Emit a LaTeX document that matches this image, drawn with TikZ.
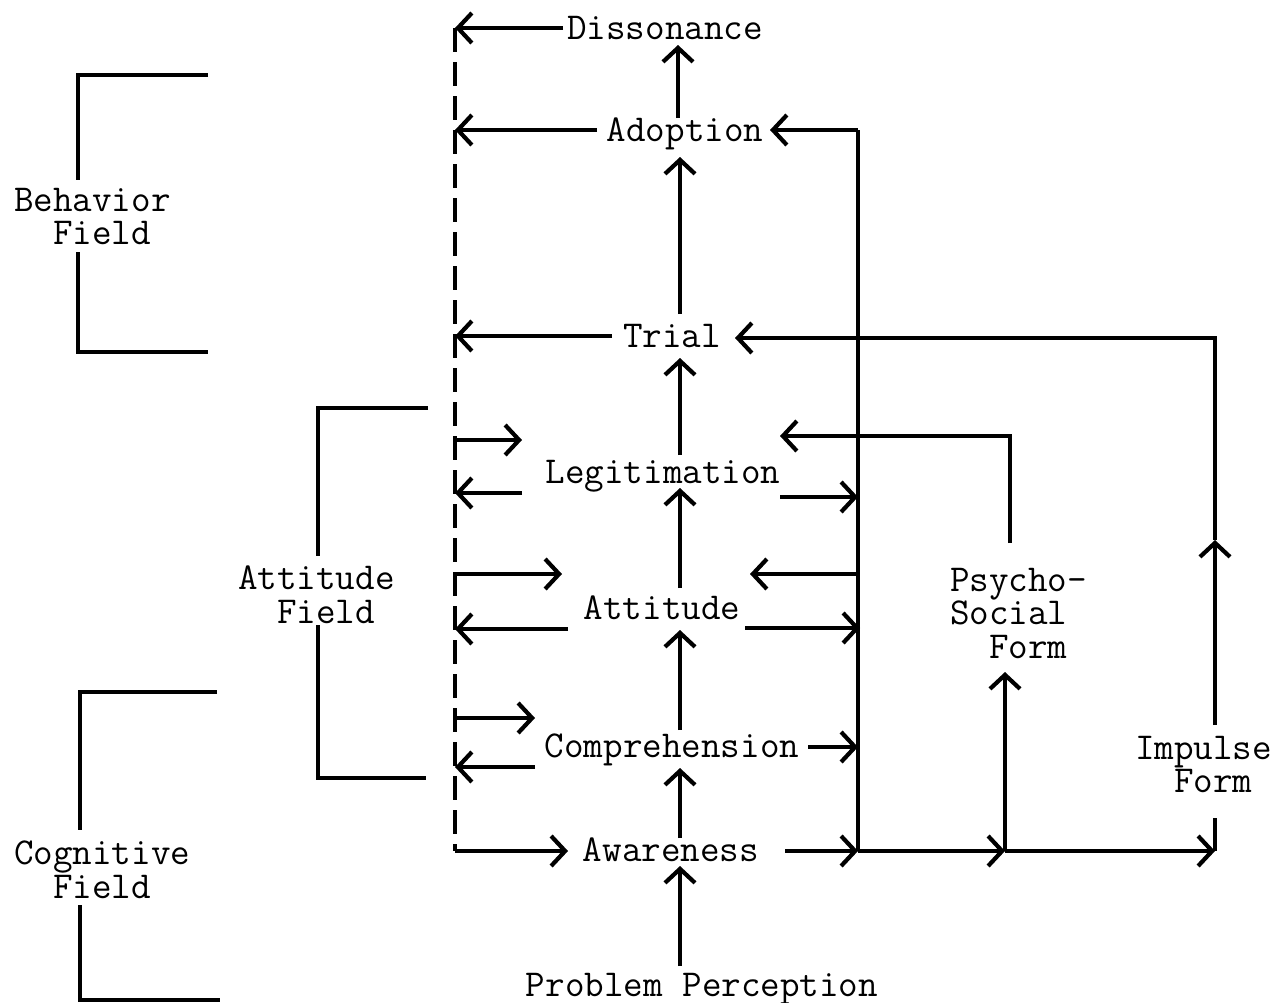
\documentclass[tikz,border=0pt]{standalone}
\usepackage{fontspec}
\usetikzlibrary{arrows.meta}
\begin{document}
\begin{tikzpicture}[x=1pt,y=-1pt,line width=4.2pt,
  arr/.style={-{Straight Barb[length=14pt,width=30pt]}},
  lbl/.style={inner sep=0pt,anchor=base,font=\ttfamily\fontsize{38}{40}\selectfont},
  blk/.style={inner sep=0pt,anchor=north west,align=left,font=\ttfamily\fontsize{38}{33.5}\selectfont},
  dsh/.style={dash pattern=on 24pt off 10pt,line width=3.6pt}]
\useasboundingbox (0,0) rectangle (1275,1002);
% main stage labels
\node[lbl] (dis) at (665,39) {Dissonance};
\node[lbl] (ado) at (685,141) {Adoption};
\node[lbl] (tri) at (672,347) {Trial};
\node[lbl] (leg) at (663,483) {Legitimation};
\node[lbl] (att) at (662,619) {Attitude};
\node[lbl] (com) at (672,757) {Comprehension};
\node[lbl] (awa) at (671,861) {Awareness};
\node[lbl] (pp) at (702,996) {Problem Perception};
% right labels
\node[blk] (psy) at (948,566) {Psycho-\\Social\\\phantom{So}Form};
\node[blk] (imp) at (1133,734) {Impulse\\\phantom{Im}Form};
% field labels
\node[blk] (bf) at (12,186) {Behavior\\\phantom{Be}Field};
\node[blk] (af) at (236,564) {Attitude\\\phantom{At}Field};
\node[blk] (cf) at (12,839) {Cognitive\\\phantom{Co}Field};
% brackets
\draw (208,75) -- (78,75) -- (78,180);
\draw (78,252) -- (78,352) -- (208,352);
\draw (428,408) -- (318,408) -- (318,556);
\draw (318,625) -- (318,778) -- (426,778);
\draw (217,692) -- (80,692) -- (80,830);
\draw (80,905) -- (80,1000) -- (220,1000);
% dashed feedback line
\coordinate (dtop) at (455,28);
\coordinate (dbot) at (455,851);
\draw[dsh] (dtop) -- (dbot);
% vertical chain
\coordinate (ppT) at (680,966); \coordinate (awB) at (680,866);
\coordinate (awT) at (680,838); \coordinate (coB) at (680,768);
\coordinate (coT) at (680,730); \coordinate (atB) at (680,630);
\coordinate (atT) at (680,588); \coordinate (leB) at (680,488);
\coordinate (leT) at (680,455); \coordinate (trB) at (680,358);
\coordinate (trT) at (680,314); \coordinate (adB) at (680,157);
\coordinate (adT) at (678,118); \coordinate (diB) at (678,45);
\draw[arr] (ppT) -- (awB);
\draw[arr] (awT) -- (coB);
\draw[arr] (coT) -- (atB);
\draw[arr] (atT) -- (leB);
\draw[arr] (leT) -- (trB);
\draw[arr] (trT) -- (adB);
\draw[arr] (adT) -- (diB);
% left arrows to dashed line
\coordinate (diL) at (563,28);  \coordinate (diD) at (455,28);
\coordinate (adL) at (597,130); \coordinate (adD) at (455,130);
\coordinate (trL) at (612,336); \coordinate (trD) at (455,336);
\coordinate (leL) at (522,493); \coordinate (leD) at (455,493);
\coordinate (atL) at (568,629); \coordinate (atD) at (455,629);
\coordinate (coL) at (535,767); \coordinate (coD) at (455,767);
\draw[arr] (diL) -- (diD);
\draw[arr] (adL) -- (adD);
\draw[arr] (trL) -- (trD);
\draw[arr] (leL) -- (leD);
\draw[arr] (atL) -- (atD);
\draw[arr] (coL) -- (coD);
% arrows from dashed line
\coordinate (d1) at (455,440); \coordinate (e1) at (522,440);
\coordinate (d2) at (455,574); \coordinate (e2) at (562,574);
\coordinate (d3) at (455,718); \coordinate (e3) at (535,718);
\coordinate (e4) at (568,851);
\draw[arr] (d1) -- (e1);
\draw[arr] (d2) -- (e2);
\draw[arr] (d3) -- (e3);
\draw[arr] (dbot) -- (e4);
% right trunk
\coordinate (rT) at (858,130); \coordinate (rB) at (858,851);
\coordinate (adR) at (770,130);
\draw (rB) -- (rT);
\draw[arr] (rT) -- (adR);
\coordinate (leR) at (780,497); \coordinate (leX) at (858,497);
\coordinate (atR) at (745,628); \coordinate (atX) at (860,628);
\coordinate (coR) at (808,747); \coordinate (coX) at (858,747);
\coordinate (awR) at (785,851);
\coordinate (r2) at (858,574); \coordinate (at2) at (750,574);
\draw[arr] (leR) -- (leX);
\draw[arr] (atR) -- (atX);
\draw[arr] (coR) -- (coX);
\draw[arr] (r2) -- (at2);
\draw[arr] (awR) -- (rB);
% psycho-social branch
\coordinate (psB) at (1005,851);
\coordinate (psU) at (1005,672);
\coordinate (psT) at (1010,543);
\coordinate (psC) at (1010,436);
\coordinate (leT2) at (780,436);
\draw[arr] (rB) -- (psB);
\draw[arr] (psB) -- (psU);
\draw[arr] (psT) -- (psC) -- (leT2);
% impulse branch
\coordinate (imB) at (1215,851);
\coordinate (imL) at (1215,818);
\coordinate (imT) at (1215,725);
\coordinate (imM) at (1215,540);
\coordinate (imC) at (1215,338);
\coordinate (trR) at (735,338);
\draw[arr] (psB) -- (imB);
\draw (imB) -- (imL);
\draw[arr] (imT) -- (imM);
\draw[arr] (imM) -- (imC) -- (trR);
\end{tikzpicture}
\end{document}
